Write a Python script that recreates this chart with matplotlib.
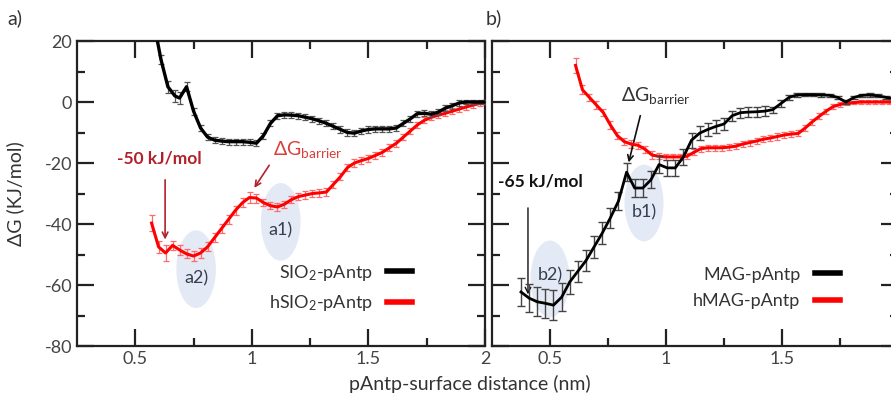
import numpy as np
import matplotlib
matplotlib.use('Agg')
import matplotlib.pyplot as plt
from matplotlib.patches import Ellipse
from matplotlib.lines import Line2D

plt.rcParams['font.family'] = ['Lato', 'DejaVu Sans']
plt.rcParams['mathtext.fontset'] = 'custom'
plt.rcParams['mathtext.rm'] = 'Lato'
plt.rcParams['mathtext.it'] = 'Lato:italic'
plt.rcParams['mathtext.bf'] = 'Lato:bold'

# --- panel a: SiO2 ---
sio2_x = [0.58, 0.61, 0.64, 0.67, 0.69, 0.72, 0.75, 0.78, 0.81, 0.84, 0.87, 0.90,
          0.93, 0.96, 0.99, 1.02, 1.05, 1.08, 1.11, 1.14, 1.17, 1.20, 1.23, 1.26,
          1.29, 1.32, 1.35, 1.38, 1.41, 1.44, 1.47, 1.50, 1.53, 1.56, 1.59, 1.62,
          1.65, 1.68, 1.71, 1.74, 1.77, 1.80, 1.83, 1.86, 1.89, 1.92, 1.95, 1.98, 2.00]
sio2_y = [26, 14, 5, 2, 1.3, 5, -3, -8.5, -11.5, -12.5, -12.8, -13,
          -13, -13, -13.2, -13.5, -11, -7, -4.5, -4.2, -4.3, -4.5, -5, -5.5,
          -6.2, -7, -8, -9, -10, -10.2, -9.5, -9, -8.8, -8.8, -8.8, -8.5,
          -7, -5.5, -3.8, -3.7, -4, -3.3, -2, -1.2, -0.3, 0, 0, 0, 0]
sio2_err = [1.5, 1.5, 2, 2, 2, 1.5, 1.2, 1, 1, 1, 1, 1,
            1, 1, 1, 1, 1, 1, 1, 1, 1, 1, 1, 1,
            1, 1, 1, 1, 1, 1, 1, 1, 1, 1, 1, 1,
            1, 1, 1, 1, 1, 1, 1, 1, 1, 0.5, 0.5, 0.5, 0.5]

hsio2_x = [0.57, 0.60, 0.63, 0.66, 0.69, 0.72, 0.75, 0.78, 0.81, 0.84, 0.87, 0.90,
           0.93, 0.96, 0.99, 1.02, 1.05, 1.08, 1.11, 1.14, 1.17, 1.20, 1.23, 1.26,
           1.29, 1.32, 1.35, 1.38, 1.41, 1.44, 1.47, 1.50, 1.53, 1.56, 1.59, 1.62,
           1.65, 1.68, 1.71, 1.74, 1.77, 1.80, 1.83, 1.86, 1.89, 1.92, 1.95, 1.98, 2.00]
hsio2_y = [-39.7, -47.5, -49.5, -47, -48.5, -49.8, -50.5, -49.5, -47.5, -44.5, -41.5, -38.5,
           -35.5, -33, -31.3, -31.5, -33, -34, -34.4, -33.5, -32, -31, -30.5, -30,
           -29.8, -29.5, -27, -24.5, -21.5, -20, -19.2, -18.5, -17.5, -16.5, -15, -13.5,
           -11.5, -9.5, -7.5, -6, -5, -4.3, -3.7, -3, -2.3, -1.6, -1, -0.4, 0]
hsio2_err = [2.5, 2, 2.5, 1.5, 1.5, 1.5, 1.5, 1.5, 1.5, 1.5, 1.5, 1.5,
             1.5, 1.5, 1.8, 1.5, 1.2, 1.2, 1.2, 1.2, 1.2, 1.2, 1.2, 1.2,
             1.2, 1.2, 1.2, 1.2, 1.2, 1.2, 1.2, 1.2, 1.2, 1.2, 1.2, 1.2,
             1, 1, 1, 1, 1, 1, 1, 1, 1, 1, 0.8, 0.8, 0.5]

# --- panel b: MAG ---
mag_x = [0.375, 0.41, 0.445, 0.48, 0.515, 0.55, 0.585, 0.62, 0.655, 0.69, 0.725, 0.76,
         0.795, 0.83, 0.865, 0.90, 0.935, 0.97, 1.005, 1.04, 1.075, 1.11, 1.145, 1.18,
         1.215, 1.25, 1.285, 1.32, 1.355, 1.39, 1.425, 1.46, 1.495, 1.53, 1.565, 1.60,
         1.635, 1.67, 1.705, 1.74, 1.775, 1.81, 1.845, 1.88, 1.915, 1.95, 1.985]
mag_y = [-62.3, -64.3, -65.5, -66, -66.6, -64, -59, -55.5, -52, -47.5, -43, -38,
         -32.5, -23, -28.2, -28.2, -25.5, -20.5, -21.6, -21.6, -18, -12.5, -10.2, -9,
         -8, -7.2, -4.5, -3.5, -3.3, -3.2, -3.0, -2.5, -0.5, 1.5, 2.3, 2.4,
         2.4, 2.3, 2.2, 1.5, 0, 1.5, 2.2, 2.3, 2.0, 1.5, 1.0]
mag_err = [4.5, 4.5, 4.8, 4.8, 5, 4.5, 4, 3.5, 3.5, 3.5, 3.5, 3.2,
           3, 3, 2.8, 2.8, 2.8, 2.8, 2.5, 2.5, 2.5, 2.5, 2.2, 2.2,
           2, 2, 1.6, 1.6, 1.6, 1.6, 1.6, 1, 1, 0.8, 0.6, 0.5,
           0.5, 0.5, 0.5, 0.5, 0.5, 0.5, 0.5, 0.5, 0.5, 0.5, 0.5]

hmag_x = [0.61, 0.64, 0.67, 0.70, 0.73, 0.76, 0.79, 0.82, 0.85, 0.88, 0.91, 0.94,
          0.97, 1.00, 1.03, 1.06, 1.09, 1.12, 1.15, 1.18, 1.21, 1.24, 1.27, 1.30,
          1.33, 1.36, 1.39, 1.42, 1.45, 1.48, 1.51, 1.54, 1.57, 1.60, 1.63, 1.66,
          1.69, 1.72, 1.75, 1.78, 1.81, 1.84, 1.87, 1.90, 1.93, 1.96, 1.99]
hmag_y = [12, 4, 1.5, -1, -3.5, -7.5, -11, -13, -13.8, -14.2, -15.5, -17.4,
          -17.8, -18, -18, -18, -17.8, -16.5, -15.3, -15, -15, -15, -14.8, -14.5,
          -13.8, -13.3, -12.8, -12.2, -11.8, -11.3, -10.8, -10.5, -10.3, -8.5, -6.5, -4.7,
          -3, -1.5, -0.8, -0.4, -0.2, 0, 0, 0, 0, 0, 0]
hmag_err = [2.5, 1.5, 1.2, 1.2, 1.2, 1.2, 1.2, 1.2, 1.2, 1.2, 1.2, 1.2,
            1, 1, 1, 1, 1, 1, 1, 1, 1, 1, 1, 1,
            1, 1, 1, 1, 1, 1, 1, 1, 1, 1, 1, 1,
            0.8, 0.8, 0.8, 0.6, 0.6, 0.5, 0.5, 0.5, 0.5, 0.5, 0.5]

legend_a = ['SIO$_2$-pAntp', 'hSIO$_2$-pAntp']
legend_b = ['MAG-pAntp', 'hMAG-pAntp']

RED = '#ff0000'
DARKRED = '#b3202a'
ELL = '#d3ddef'
LBL = '#34404f'

fig = plt.figure(figsize=(8.91, 3.99), dpi=100)
ax_a = fig.add_axes([0.0864, 0.1328, 0.4579, 0.7644])
ax_b = fig.add_axes([0.5522, 0.1328, 0.4557, 0.7644])

for ax in (ax_a, ax_b):
    ax.set_xlim(0.25, 2.0)
    ax.set_ylim(-80, 20)
    ax.set_xticks([0.5, 1, 1.5, 2])
    ax.set_xticklabels(['0.5', '1', '1.5', '2'])
    ax.set_xticks([0.75, 1.25, 1.75], minor=True)
    ax.set_yticks([20, 0, -20, -40, -60, -80])
    ax.set_yticks([10, -10, -30, -50, -70], minor=True)
    ax.tick_params(which='both', direction='in', top=True, right=True, width=1.6,
                   labelsize=13, colors='#222222', labelcolor='#444444')
    ax.tick_params(which='major', length=12)
    ax.tick_params(which='minor', length=6)
    for s in ax.spines.values():
        s.set_linewidth(1.6)
        s.set_color('#222222')

ax_b.tick_params(labelleft=False)
ax_a.set_yticklabels(['20', '0', '-20', '-40', '-60', '-80'])

# panel a
ax_a.add_patch(Ellipse((1.124, -39.3), 0.17, 25.5, color=ELL, alpha=0.6, lw=0, zorder=1))
ax_a.add_patch(Ellipse((0.761, -54.8), 0.17, 25.5, color=ELL, alpha=0.6, lw=0, zorder=1))
ax_a.text(1.124, -42, 'a1)', ha='center', va='center', fontsize=13, color=LBL, zorder=2)
ax_a.text(0.761, -57.7, 'a2)', ha='center', va='center', fontsize=13, color=LBL, zorder=2)

ax_a.errorbar(hsio2_x, hsio2_y, yerr=hsio2_err, color=RED, lw=2.2, ecolor='#ff6a6a',
              elinewidth=0.9, capsize=2.2, capthick=0.9, zorder=3)
ax_a.errorbar(sio2_x, sio2_y, yerr=sio2_err, color='black', lw=2.4, ecolor='#555555',
              elinewidth=0.9, capsize=2.2, capthick=0.9, zorder=4)

ax_a.text(0.603, -18.4, '-50 kJ/mol', ha='center', va='center', fontsize=12.5,
          fontweight='bold', color=DARKRED)
ax_a.annotate('', xy=(0.628, -46), xytext=(0.628, -24.6),
              arrowprops=dict(arrowstyle='->', color=DARKRED, lw=1.2))
ax_a.text(1.09, -15.5, r'$\Delta$G$_{\mathrm{barrier}}$', ha='left', va='center',
          fontsize=14, color='#d8403a')
ax_a.annotate('', xy=(1.004, -28.9), xytext=(1.081, -20),
              arrowprops=dict(arrowstyle='->', color=DARKRED, lw=1.2))

handles_a = [Line2D([], [], color='black', lw=4), Line2D([], [], color=RED, lw=4)]
ax_a.legend(handles_a, legend_a, loc='center right', bbox_to_anchor=(0.84, 0.19),
            frameon=False, markerfirst=False, fontsize=13, handlelength=1.4,
            handletextpad=0.8, labelspacing=0.6, borderaxespad=0, labelcolor='#333333')

# panel b
ax_b.add_patch(Ellipse((0.905, -33.1), 0.168, 25.2, color=ELL, alpha=0.6, lw=0, zorder=1))
ax_b.add_patch(Ellipse((0.5, -58.0), 0.168, 25.2, color=ELL, alpha=0.6, lw=0, zorder=1))
ax_b.text(0.905, -36.1, 'b1)', ha='center', va='center', fontsize=13, color=LBL, zorder=2)
ax_b.text(0.5, -56.7, 'b2)', ha='center', va='center', fontsize=13, color=LBL, zorder=2)

ax_b.errorbar(hmag_x, hmag_y, yerr=hmag_err, color=RED, lw=2.2, ecolor='#ff6a6a',
              elinewidth=0.9, capsize=2.2, capthick=0.9, zorder=3)
ax_b.errorbar(mag_x, mag_y, yerr=mag_err, color='black', lw=2.0, ecolor='#444444',
              elinewidth=1.0, capsize=2.8, capthick=1.0, zorder=4)

ax_b.text(0.806, 2.3, r'$\Delta$G$_{\mathrm{barrier}}$', ha='left', va='center',
          fontsize=14, color='#333333')
ax_b.annotate('', xy=(0.836, -20.7), xytext=(0.892, -3.6),
              arrowprops=dict(arrowstyle='->', color='#111111', lw=1.2))
ax_b.text(0.276, -26.2, '-65 kJ/mol', ha='left', va='center', fontsize=12.5,
          fontweight='bold', color='#111111')
ax_b.annotate('', xy=(0.405, -64), xytext=(0.405, -33.8),
              arrowprops=dict(arrowstyle='->', color='#111111', lw=1.0))

handles_b = [Line2D([], [], color='black', lw=4), Line2D([], [], color=RED, lw=4)]
ax_b.legend(handles_b, legend_b, loc='center right', bbox_to_anchor=(0.875, 0.19),
            frameon=False, markerfirst=False, fontsize=13, handlelength=1.4,
            handletextpad=0.8, labelspacing=0.6, borderaxespad=0, labelcolor='#333333')

# labels
ax_a.set_ylabel('ΔG (KJ/mol)', fontsize=14, color='#333333')
ax_a.yaxis.set_label_coords(-0.13, 0.5)
fig.text(470 / 891, 1 - 384 / 399, 'pAntp-surface distance (nm)', ha='center',
         va='center', fontsize=14, color='#333333')
fig.text(0.008, 0.955, 'a)', fontsize=14, color='#333333', va='center')
fig.text(0.545, 0.955, 'b)', fontsize=14, color='#333333', va='center')

fig.savefig('out.png', dpi=100)
